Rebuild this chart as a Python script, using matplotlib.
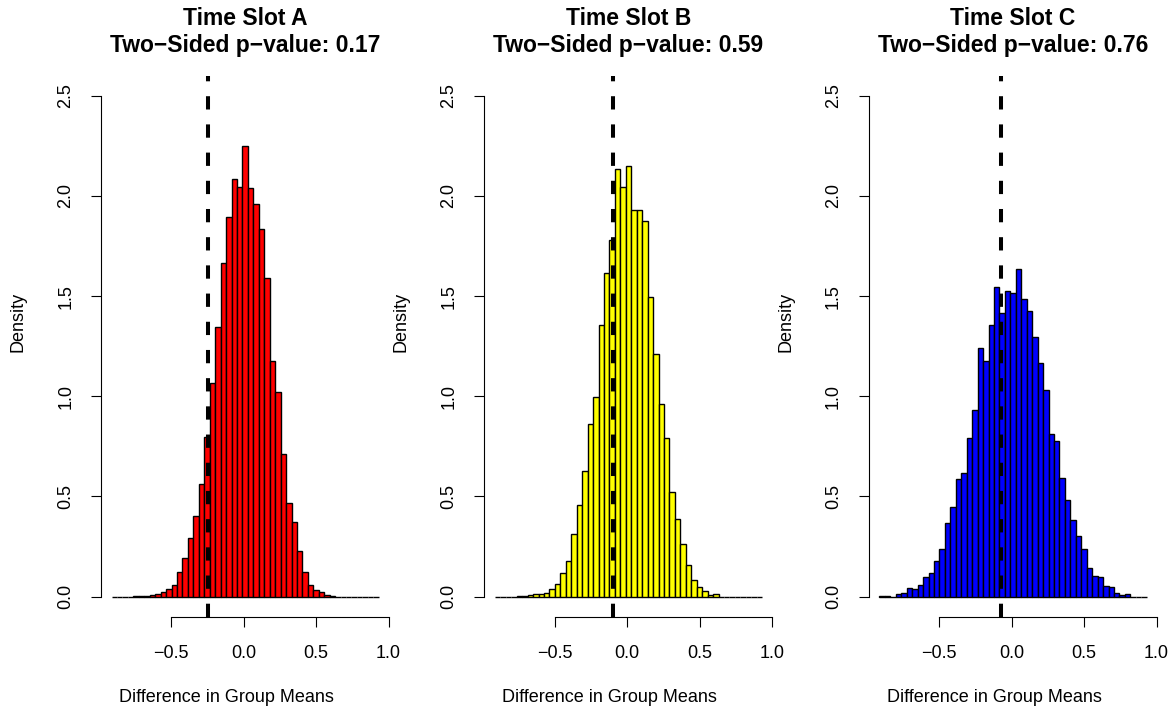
import numpy as np
import matplotlib.pyplot as plt

plt.rcParams['font.family'] = ['Liberation Sans', 'DejaVu Sans']

# shared histogram breaks (49 bins)
breaks = np.linspace(-0.913, 0.932, 50)

dens_a = [0, 0, 0, 0, 0.001, 0.001, 0.004, 0.009, 0.014, 0.021,
          0.036, 0.059, 0.125, 0.195, 0.291, 0.404, 0.561, 0.798, 1.065, 1.347,
          1.663, 1.896, 2.084, 2.046, 2.249, 2.038, 1.959, 1.835, 1.588, 1.178,
          1.020, 0.710, 0.466, 0.373, 0.228, 0.124, 0.060, 0.031, 0.024, 0.008,
          0.005, 0, 0, 0, 0, 0, 0, 0, 0]
dens_b = [0, 0, 0, 0, 0.001, 0.003, 0.006, 0.012, 0.014, 0.019,
          0.037, 0.062, 0.116, 0.180, 0.313, 0.457, 0.629, 0.860, 0.998, 1.356,
          1.617, 1.780, 2.134, 2.046, 2.149, 1.929, 1.929, 1.875, 1.494, 1.209,
          0.961, 0.790, 0.521, 0.386, 0.263, 0.158, 0.083, 0.046, 0.029, 0.010,
          0.013, 0, 0, 0, 0, 0, 0, 0, 0]
dens_c = [0.005, 0.002, 0, 0.013, 0.017, 0.045, 0.037, 0.057, 0.096, 0.116,
          0.178, 0.236, 0.369, 0.447, 0.585, 0.615, 0.792, 0.931, 1.239, 1.178,
          1.357, 1.544, 1.414, 1.525, 1.514, 1.635, 1.485, 1.427, 1.297, 1.168,
          1.030, 0.813, 0.777, 0.590, 0.481, 0.383, 0.304, 0.236, 0.141, 0.103,
          0.096, 0.052, 0.047, 0.020, 0.010, 0.015, 0, 0, 0]

slots = ['A', 'B', 'C']
pvals = ['0.17', '0.59', '0.76']
observed = [-0.25, -0.097, -0.076]
colors = ['#FF0000', '#FFFF00', '#0000FF']
densities = [dens_a, dens_b, dens_c]

fig = plt.figure(figsize=(11.71, 7.15), dpi=100)
lefts = [0.0861, 0.4135, 0.7419]
width = np.diff(breaks)

for i in range(3):
    ax = fig.add_axes([lefts[i], 0.1375, 0.2465, 0.7566])
    ax.bar(breaks[:-1], densities[i], width=width, align='edge',
           color=colors[i], edgecolor='black', linewidth=1.0)
    ax.axvline(observed[i], color='black', lw=2.9, linestyle=(0, (3.3, 3.7)))
    ax.set_xlim(-0.987, 1.006)
    ax.set_ylim(-0.1, 2.6)
    ax.set_xticks([-0.5, 0.0, 0.5, 1.0])
    ax.set_xticklabels(['\u22120.5', '0.0', '0.5', '1.0'])
    ax.set_yticks([0, 0.5, 1.0, 1.5, 2.0, 2.5])
    ax.set_yticklabels(['0.0', '0.5', '1.0', '1.5', '2.0', '2.5'],
                       rotation=90, va='center')
    for s in ['top', 'right']:
        ax.spines[s].set_visible(False)
    ax.spines['bottom'].set_bounds(-0.5, 1.0)
    ax.spines['left'].set_bounds(0, 2.5)
    ax.spines['bottom'].set_linewidth(0.8)
    ax.spines['left'].set_linewidth(0.8)
    ax.tick_params(direction='out', length=7.2, width=0.8, labelsize=13)
    ax.tick_params(axis='x', pad=13)
    ax.tick_params(axis='y', pad=12)
    # axis labels placed like the R device output
    ax.text(0.434, -0.150, 'Difference in Group Means', transform=ax.transAxes,
            ha='center', va='center', fontsize=13)
    ax.text(-0.287, 0.545, 'Density', transform=ax.transAxes, rotation=90,
            ha='center', va='center', fontsize=13)
    ax.set_title('Time Slot ' + slots[i] + '\nTwo\u2212Sided p\u2212value: ' + pvals[i],
                 fontsize=16.5, fontweight='bold', pad=17, linespacing=1.25)

fig.savefig('out.png', dpi=100)
